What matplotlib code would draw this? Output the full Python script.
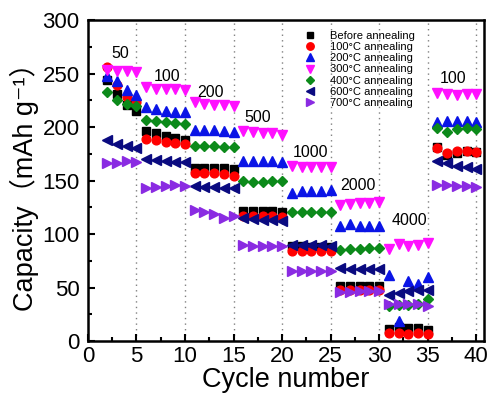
import matplotlib.pyplot as plt
from matplotlib.ticker import MultipleLocator

plt.rcParams['font.family'] = ['Liberation Sans', 'DejaVu Sans', 'Noto Sans CJK SC']

cycles = list(range(2, 41))

before = [244, 231, 221, 215,
          196, 194, 192, 190, 188,
          162, 162, 162, 162, 161,
          122, 122, 122, 122, 121,
          89, 89, 88, 88, 88,
          52, 52, 52, 52, 52,
          11, 13, 12, 12, 10,
          181, 174, 176, 178, 177]
t100 = [256, 239, 228, 223,
        189, 188, 186, 185, 184,
        157, 157, 157, 156, 154,
        117, 117, 117, 117, 116,
        84, 84, 84, 84, 84,
        48, 48, 48, 48, 48,
        8, 8, 7, 8, 7,
        180, 176, 178, 178, 177]
t200 = [248, 243, 235, 230,
        219, 217, 215, 214, 214,
        197, 197, 197, 196, 195,
        168, 168, 168, 168, 167,
        138, 140, 140, 140, 141,
        108, 109, 108, 108, 108,
        62, 19, 56, 53, 60,
        205, 206, 206, 206, 205]
t300 = [253, 252, 252, 251,
        237, 236, 236, 236, 235,
        223, 222, 221, 221, 220,
        196, 195, 194, 194, 193,
        164, 163, 163, 163, 163,
        127, 128, 129, 129, 130,
        86, 91, 89, 90, 92,
        232, 231, 230, 231, 231]
t400 = [233, 225, 222, 220,
        207, 206, 205, 204, 203,
        182, 182, 182, 181, 181,
        150, 149, 149, 150, 150,
        121, 121, 121, 121, 121,
        85, 86, 86, 87, 87,
        33, 34, 34, 35, 39,
        199, 195, 198, 199, 198]
t600 = [188, 184, 182, 180,
        170, 169, 168, 167, 167,
        145, 144, 144, 143, 143,
        115, 114, 113, 113, 112,
        90, 90, 90, 90, 89,
        68, 67, 67, 67, 67,
        43, 45, 47, 48, 48,
        168, 166, 164, 163, 161]
t700 = [166, 166, 168, 167,
        143, 144, 145, 146, 145,
        123, 121, 119, 115, 117,
        90, 89, 89, 89, 89,
        66, 66, 66, 66, 66,
        46, 46, 47, 47, 47,
        35, 35, 35, 35, 33,
        146, 146, 145, 145, 144]

rates = ['50', '100', '200', '500', '1000', '2000', '4000', '100']
rate_x = [3.3, 8.2, 12.6, 17.5, 22.9, 27.8, 33.1, 37.6]
rate_y = [269, 247, 232, 209, 176, 145, 113, 245]
boundaries = [5, 10, 15, 20, 25, 30, 35, 40]

series = [
    (before, 's', 'black', 'Before annealing'),
    (t100, 'o', 'red', '100°C annealing'),
    (t200, '^', '#0a14e6', '200°C annealing'),
    (t300, 'v', '#ff10ff', '300°C annealing'),
    (t400, 'D', '#0c8a1a', '400°C annealing'),
    (t600, '<', '#0a0a80', '600°C annealing'),
    (t700, '>', '#8a2be2', '700°C annealing'),
]
sizes = {'s': 5.8, 'o': 6.3, 'D': 5.2}

fig = plt.figure(figsize=(4.88, 4.0), dpi=100)
ax = fig.add_axes([0.180, 0.147, 0.812, 0.803])

for b in boundaries:
    ax.axvline(b, color='gray', linestyle=(0, (1, 3)), linewidth=1.0, zorder=0)

for vals, m, c, lab in series:
    ax.plot(cycles, vals, linestyle='none', marker=m, color=c,
            markersize=sizes.get(m, 6.5), label=lab)

for txt, x, y in zip(rates, rate_x, rate_y):
    ax.text(x, y, txt, fontsize=11.5, ha='center', va='center')

ax.set_xlim(0, 40.8)
ax.set_ylim(0, 300)
ax.xaxis.set_major_locator(MultipleLocator(5))
ax.xaxis.set_minor_locator(MultipleLocator(2.5))
ax.yaxis.set_major_locator(MultipleLocator(50))
ax.yaxis.set_minor_locator(MultipleLocator(25))
ax.tick_params(which='both', direction='in', width=1.5, labelsize=16)
ax.tick_params(which='major', length=5)
ax.tick_params(axis='y', which='major', pad=6)
ax.tick_params(which='minor', length=3)
for s in ax.spines.values():
    s.set_linewidth(1.8)

ax.set_xlabel('Cycle number', fontsize=19.5, labelpad=0)
ax.set_ylabel('Capacity（mAh g⁻¹）', fontsize=19.5, labelpad=2,
              family=['Liberation Sans', 'Noto Sans CJK SC', 'DejaVu Sans'])

ax.legend(loc='upper left', bbox_to_anchor=(0.505, 1.0), frameon=False,
          fontsize=8, handletextpad=0.8, labelspacing=0.1,
          markerscale=0.85, borderpad=0.5)

fig.savefig('out.png', dpi=100)
